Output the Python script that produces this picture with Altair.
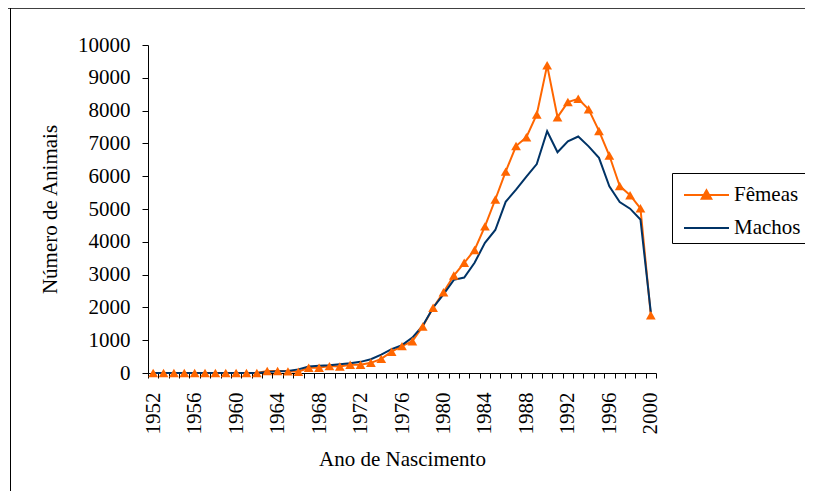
import altair as alt
import pandas as pd

years = list(range(1952, 2001))
femeas = [0, 0, 0, 0, 0, 0, 0, 0, 0, 0, 0,
          60, 60, 50, 40, 160, 160, 210, 200, 250, 250, 310, 430, 650, 820, 970,
          1420, 1990, 2460, 2970, 3360, 3750, 4470, 5290, 6140, 6920, 7190, 7880,
          9380, 7800, 8260, 8360, 8040, 7380, 6630, 5700, 5420, 5020, 1760]
machos = [0, 0, 0, 0, 0, 0, 0, 0, 0, 0, 0,
          30, 50, 60, 110, 200, 220, 240, 270, 300, 340, 420, 560, 730, 850, 1080,
          1440, 1990, 2400, 2840, 2910, 3360, 3970, 4360, 5220, 5590, 5990, 6370,
          7370, 6730, 7060, 7210, 6910, 6560, 5690, 5210, 5010, 4680, 1850]
series = ["Fêmeas", "Machos"]
colors = ["#FF6600", "#003366"]
label_years = list(range(1952, 2001, 4))
y_ticks = list(range(0, 10001, 1000))

df = pd.DataFrame({
    "ano": years + years,
    "valor": femeas + machos,
    "serie": [series[0]] * len(years) + [series[1]] * len(years),
})

FONT = "Liberation Serif"
FS = 21
tick_bounds = [y - 0.5 for y in years] + [years[-1] + 0.5]
x_scale = alt.Scale(domain=[years[0] - 0.5, years[-1] + 0.5], nice=False, zero=False)

axis_labels = alt.Axis(
    orient="bottom", values=label_years, title="Ano de Nascimento", format="d",
    ticks=False, domain=False, labelAngle=270, labelPadding=19,
    labelOverlap=False, labelFlush=False, titlePadding=14, grid=False,
)
axis_ticks = alt.Axis(
    orient="bottom", values=tick_bounds, title=None, labels=False,
    tickSize=5, domain=True, grid=False,
)
y_axis = alt.Axis(
    values=y_ticks, title="Número de Animais", format="d",
    tickSize=6, labelPadding=12, titlePadding=17, grid=False,
)

x_lab = alt.X("ano:Q", scale=x_scale, axis=axis_labels)
x_tck = alt.X("ano:Q", scale=x_scale, axis=axis_ticks)
x_none = alt.X("ano:Q", scale=x_scale, axis=None)
y_enc = alt.Y("valor:Q", scale=alt.Scale(domain=[0, 10000], nice=False), axis=y_axis)
y_none = alt.Y("valor:Q", scale=alt.Scale(domain=[0, 10000], nice=False), axis=None)

base = alt.Chart(df)
line_f = base.transform_filter(alt.datum.serie == series[0]).mark_line(
    color=colors[0], strokeWidth=2).encode(x=x_tck, y=y_enc)
line_m = base.transform_filter(alt.datum.serie == series[1]).mark_line(
    color=colors[1], strokeWidth=2).encode(x=x_lab, y=y_none)
pts_f = base.transform_filter(alt.datum.serie == series[0]).mark_point(
    shape="triangle-up", filled=True, size=95, color=colors[0], opacity=1).encode(x=x_none, y=y_none)

# legend symbols: line with triangle (Fêmeas) and plain line (Machos)
sym_f = "M-0.625,0H2.1875M0.48,0.24L0.78,-0.30L1.08,0.24Z"
sym_m = "M-0.625,0H2.1875"
leg = alt.Legend(title=None, orient="none", legendX=524, legendY=128)
legend_layer = base.transform_filter("false").mark_point(filled=True, opacity=1).encode(
    x=x_none, y=y_none,
    color=alt.Color("serie:N", scale=alt.Scale(domain=series, range=colors), legend=leg),
    stroke=alt.Stroke("serie:N", scale=alt.Scale(domain=series, range=colors), legend=leg),
    shape=alt.Shape("serie:N", scale=alt.Scale(domain=series, range=[sym_f, sym_m]), legend=leg),
)

one = alt.Chart(pd.DataFrame({"k": [0]}))
border_top = one.mark_rule(color="#404040", strokeWidth=2).encode(
    x=alt.value(-140), x2=alt.value(657), y=alt.value(-37))
border_left = one.mark_rule(color="black", strokeWidth=1).encode(
    x=alt.value(-137.5), y=alt.value(-37), y2=alt.value(450))

chart = alt.layer(border_top, border_left, line_f, line_m, pts_f, legend_layer).resolve_axis(
    x="independent", y="independent"
).properties(
    width=508,
    height=328,
    padding={"left": 140, "top": 37, "right": 149, "bottom": 118},
    autosize=alt.AutoSizeParams(type="none"),
    background="white",
).configure_view(stroke=None).configure_axis(
    labelFont=FONT, titleFont=FONT, labelFontSize=FS, titleFontSize=FS,
    labelColor="black", titleColor="black", titleFontWeight="normal",
    domainColor="black", tickColor="black", domainWidth=1, tickWidth=1,
).configure_legend(
    padding=5, strokeColor="black", fillColor="white", cornerRadius=0,
    labelFont=FONT, labelFontSize=FS, labelColor="black",
    symbolSize=1024, symbolStrokeWidth=2, labelOffset=23, rowPadding=6,
    symbolOpacity=1,
)

chart.save("out.html", embed_options={"renderer": "svg", "actions": False})
